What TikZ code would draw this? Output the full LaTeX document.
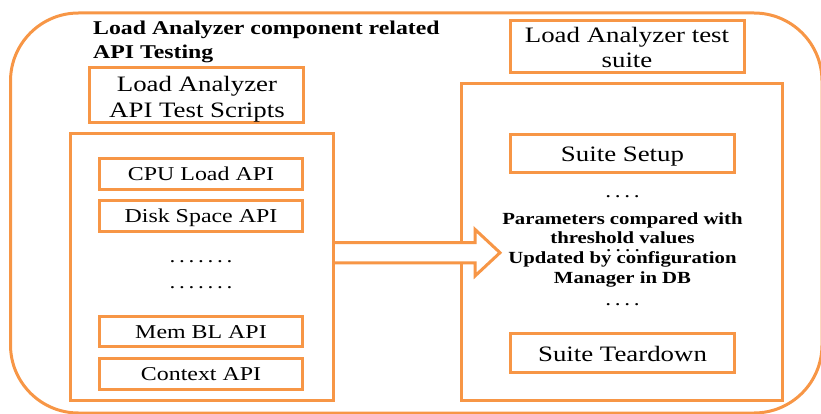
\documentclass[tikz,border=0pt]{standalone}
\usepackage{fontspec}
\setmainfont{Liberation Serif}[FakeStretch=1.22]
\usetikzlibrary{calc}
\definecolor{orng}{HTML}{F79646}
\newcommand{\dk}{.\kern3.7pt}
\begin{document}
\begin{tikzpicture}[x=1pt,y=-1pt,
  ln/.style={draw=orng,line width=3pt},
  box/.style={ln,fill=white,inner sep=0pt},
  small/.style={font=\fontsize{19.6}{22}\selectfont,text height=13.8pt,text depth=0pt},
  big/.style={font=\fontsize{22}{26}\selectfont,text height=17pt,text depth=0pt},
  lbl/.style={font=\fontsize{22}{26}\selectfont,anchor=base,inner sep=0pt},
  bld/.style={font=\bfseries\fontsize{17}{20}\selectfont,anchor=base,inner sep=0pt},
  ttl/.style={font=\bfseries\fontsize{19.5}{23}\selectfont,anchor=base west,inner sep=0pt},
  dots/.style={font=\fontsize{19}{22}\selectfont,anchor=base,inner sep=0pt}]
\useasboundingbox (0,0) rectangle (821,414);
% outer frame
\draw[ln,rounded corners=68pt] (10.5,13) rectangle (822,413);
% title
\node[ttl] (t1) at (93,35) {Load Analyzer component related};
\node[ttl] (t2) at (93,58.5) {API Testing};
% left label box
\node[box,minimum width=214.4pt,minimum height=54.9pt] (lab) at (196.5,95.3) {};
\node[lbl] (lab1) at (197,92) {Load Analyzer};
\node[lbl] (lab2) at (197,118) {API Test Scripts};
% left big box
\node[box,minimum width=263pt,minimum height=266pt] (leftbig) at (202,267) {};
\node[box,small,minimum width=203pt,minimum height=30.6pt] (cpu) at (201,174) {CPU Load API};
\node[box,small,minimum width=203pt,minimum height=31.4pt] (disk) at (201,216) {Disk Space API};
\node[dots] (d1) at (201,262) {\dk\dk\dk\dk\dk\dk.};
\node[dots] (d2) at (201,288) {\dk\dk\dk\dk\dk\dk.};
\node[box,small,minimum width=203pt,minimum height=30.4pt] (mem) at (201,331.5) {Mem BL API};
\node[box,small,minimum width=203pt,minimum height=31pt] (ctx) at (201,374) {Context API};
% right label box
\node[box,minimum width=234.4pt,minimum height=52.4pt] (suite) at (627.5,46.5) {};
\node[lbl] (s1) at (627,43) {Load Analyzer test};
\node[lbl] (s2) at (627,68) {suite};
% right big box
\node[box,minimum width=320.7pt,minimum height=316pt] (rightbig) at (622.3,242) {};
\node[box,big,minimum width=224.4pt,minimum height=38.4pt] (setup) at (622.5,153.5) {Suite Setup};
\node[box,big,minimum width=224.4pt,minimum height=39pt] (tear) at (622.5,352.5) {Suite Teardown};
% arrow
\coordinate (ay) at (0,252.7);
\coordinate (aS) at (leftbig.east |- ay);
\coordinate (aT) at (500,252.7);
\path[fill=white] ($(aS)+(1.5,-10.2)$) -- ($(aT)+(-25,-10.2)$) -- ($(aT)+(-25,-23.3)$) -- (aT)
  -- ($(aT)+(-25,23.3)$) -- ($(aT)+(-25,10.2)$) -- ($(aS)+(1.5,10.2)$) -- cycle;
\draw[ln,line join=miter] ($(aS)+(0,-10.2)$) -- ($(aT)+(-25,-10.2)$) -- ($(aT)+(-25,-23.3)$) -- (aT)
  -- ($(aT)+(-25,23.3)$) -- ($(aT)+(-25,10.2)$) -- ($(aS)+(0,10.2)$);
% right texts
\node[dots] (r1) at (622.5,197) {\dk\dk\dk.};
\node[dots] (r2) at (623,251) {\dk\dk\dk.};
\node[dots] (r3) at (622.5,305) {\dk\dk\dk.};
\node[bld] (p1) at (622.5,224) {Parameters compared with};
\node[bld] (p2) at (622.5,243.5) {threshold values};
\node[bld] (p3) at (622.5,263) {Updated by configuration};
\node[bld] (p4) at (622.5,283) {Manager in DB};
\end{tikzpicture}
\end{document}
